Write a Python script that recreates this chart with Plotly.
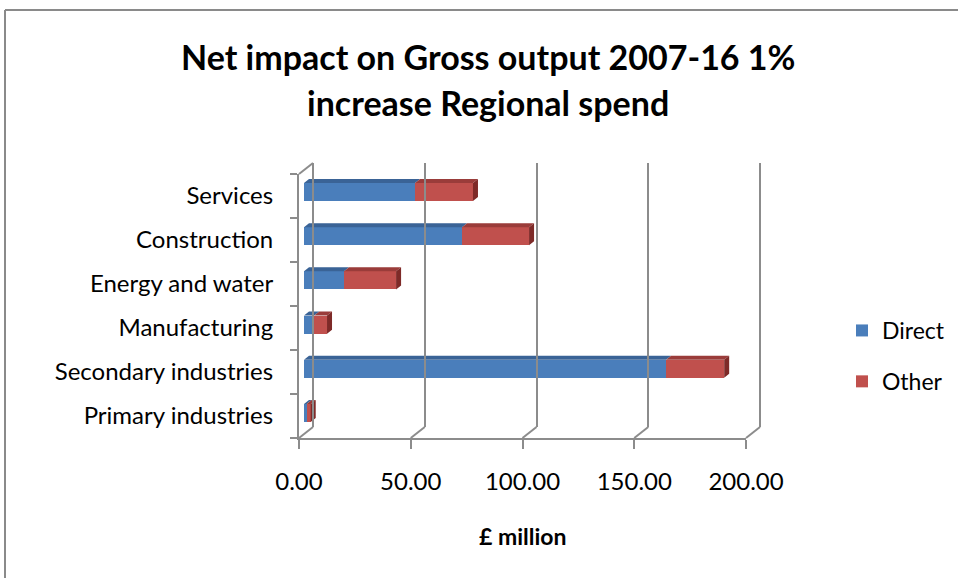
import plotly.graph_objects as go

# ---- data ----
categories = ["Primary industries", "Secondary industries", "Manufacturing",
              "Energy and water", "Construction", "Services"]
direct = [1.2, 162.0, 4.6, 17.9, 70.7, 49.7]
other = [1.8, 26.0, 5.7, 23.3, 30.0, 25.9]
x_ticks = [0, 50, 100, 150, 200]
x_tick_text = ["0.00", "50.00", "100.00", "150.00", "200.00"]

# ---- page geometry (pixels) ----
W, H = 958, 578
FONT = "Lato, 'Open Sans', sans-serif"
GRID = "#8C8C8C"
BLUE, BLUE_TOP = "#4A7EBB", "#3A6396"
RED, RED_TOP, RED_SIDE = "#C0504D", "#9A3C3A", "#7E2A28"


def px(x):
    return x / W


def py(y):
    return 1 - y / H


# front plane, bar plane, back wall (left, right, top, bottom)
FRONT = (299, 746, 174, 438)
BARS = (304, 751, 169.9, 435.1)
BACK = (313, 760, 163, 427)
XMAX = 200.0
bar_w = 0.41
# depth offsets of the 3-D faces, in data units of the bar plane
dx = 5 / ((BARS[1] - BARS[0]) / XMAX)
dy = 4 / ((BARS[3] - BARS[2]) / len(categories))

fig = go.Figure()

# invisible trace that carries the back-wall gridlines
fig.add_trace(go.Scatter(x=[0, XMAX], y=[0, 1], mode="markers",
                         marker=dict(opacity=0), hoverinfo="skip",
                         showlegend=False, xaxis="x3", yaxis="y3"))

# invisible trace that carries the category axis on the front plane
fig.add_trace(go.Scatter(x=[0] * len(categories), y=categories, mode="markers",
                         marker=dict(opacity=0), hoverinfo="skip",
                         showlegend=False, xaxis="x", yaxis="y"))

ypos = list(range(len(categories)))
fig.add_trace(go.Bar(y=ypos, x=direct, orientation="h", name="Direct",
                     marker=dict(color=BLUE, line=dict(width=0)), width=bar_w,
                     xaxis="x2", yaxis="y2", legendgroup="d"))
fig.add_trace(go.Bar(y=ypos, x=other, orientation="h", name="Other",
                     marker=dict(color=RED, line=dict(width=0)), width=bar_w,
                     xaxis="x2", yaxis="y2", legendgroup="o"))


def top_faces(starts, ends):
    xs, ys = [], []
    for i, (a, b) in enumerate(zip(starts, ends)):
        t = i + bar_w / 2
        xs += [a, b, b + dx, a + dx, a, None]
        ys += [t, t, t + dy, t + dy, t, None]
    return xs, ys


zeros = [0] * len(direct)
totals = [d + o for d, o in zip(direct, other)]
bx, by = top_faces(zeros, direct)
rx, ry = top_faces(direct, totals)
fig.add_trace(go.Scatter(x=bx, y=by, fill="toself", mode="lines",
                         line=dict(width=0), fillcolor=BLUE_TOP, hoverinfo="skip",
                         showlegend=False, xaxis="x2", yaxis="y2"))
fig.add_trace(go.Scatter(x=rx, y=ry, fill="toself", mode="lines",
                         line=dict(width=0), fillcolor=RED_TOP, hoverinfo="skip",
                         showlegend=False, xaxis="x2", yaxis="y2"))
sx, sy = [], []
for i, t in enumerate(totals):
    lo, hi = i - bar_w / 2, i + bar_w / 2
    sx += [t, t, t + dx, t + dx, t, None]
    sy += [lo, hi, hi + dy, lo + dy, lo, None]
fig.add_trace(go.Scatter(x=sx, y=sy, fill="toself", mode="lines",
                         line=dict(width=0), fillcolor=RED_SIDE, hoverinfo="skip",
                         showlegend=False, xaxis="x2", yaxis="y2"))

# floor / wall edges joining back wall to front plane
shapes = []
for v in x_ticks:
    bxp = BACK[0] + v / XMAX * (BACK[1] - BACK[0])
    fxp = FRONT[0] + v / XMAX * (FRONT[1] - FRONT[0])
    shapes.append(dict(type="line", xref="paper", yref="paper", layer="below",
                       x0=px(bxp), y0=py(BACK[3]), x1=px(fxp), y1=py(FRONT[3]),
                       line=dict(color=GRID, width=2)))
# closing gridline on the right edge of the back wall
shapes.append(dict(type="line", xref="paper", yref="paper", layer="below",
                   x0=px(BACK[1]), y0=py(BACK[3]), x1=px(BACK[1]), y1=py(BACK[2]),
                   line=dict(color=GRID, width=2)))
shapes.append(dict(type="line", xref="paper", yref="paper", layer="below",
                   x0=px(BACK[0]), y0=py(BACK[2]), x1=px(FRONT[0]), y1=py(FRONT[2]),
                   line=dict(color=GRID, width=2)))
# chart frame
shapes.append(dict(type="line", xref="paper", yref="paper",
                   x0=px(5), y0=py(10), x1=1.0, y1=py(10),
                   line=dict(color="#8A8A8A", width=2)))
shapes.append(dict(type="line", xref="paper", yref="paper",
                   x0=px(5), y0=py(10), x1=px(5), y1=0.0,
                   line=dict(color="#8A8A8A", width=2)))

annotations = [
    dict(text="<b>Net impact on Gross output 2007-16 1%</b>", x=px(488), y=py(57),
         xref="paper", yref="paper", showarrow=False, xanchor="center",
         yanchor="middle", font=dict(family=FONT, size=34, color="black")),
    dict(text="<b>increase Regional spend</b>", x=px(488), y=py(102),
         xref="paper", yref="paper", showarrow=False, xanchor="center",
         yanchor="middle", font=dict(family=FONT, size=34, color="black")),
    dict(text="<b>£ million</b>", x=px(522.5), y=py(536),
         xref="paper", yref="paper", showarrow=False, xanchor="center",
         yanchor="middle", font=dict(family=FONT, size=23, color="black")),
]

fig.update_layout(
    template="none",
    width=W, height=H,
    margin=dict(l=0, r=0, t=0, b=0, pad=0, autoexpand=False),
    paper_bgcolor="white", plot_bgcolor="rgba(0,0,0,0)",
    font=dict(family=FONT, color="black"),
    barmode="stack",
    showlegend=True,
    legend=dict(x=px(842), y=py(356), xanchor="left", yanchor="middle",
                font=dict(family=FONT, size=23, color="black"),
                tracegroupgap=18, bgcolor="rgba(0,0,0,0)", borderwidth=0),
    xaxis=dict(domain=[px(FRONT[0]), px(FRONT[1])], range=[0, XMAX],
               tickvals=x_ticks, ticktext=x_tick_text, ticks="outside",
               ticklen=9, tickwidth=2, tickcolor=GRID, showline=True,
               linecolor=GRID, linewidth=2, showgrid=False, zeroline=False,
               tickfont=dict(family=FONT, size=24, color="black"),
               ticklabelstandoff=12, anchor="y", automargin=False,
               fixedrange=True),
    yaxis=dict(domain=[py(FRONT[3]), py(FRONT[2])], type="category",
               categoryorder="array", categoryarray=categories,
               range=[-0.5, len(categories) - 0.5],
               tickson="boundaries", ticks="outside", ticklen=7, tickwidth=2,
               tickcolor=GRID, showline=True, linecolor=GRID, linewidth=2,
               showgrid=False, zeroline=False,
               tickfont=dict(family=FONT, size=24, color="black"),
               ticklabelstandoff=19, anchor="x", automargin=False,
               fixedrange=True),
    xaxis2=dict(domain=[px(BARS[0]), px(BARS[1])], range=[0, XMAX],
                visible=False, anchor="y2", automargin=False, fixedrange=True),
    yaxis2=dict(domain=[py(BARS[3]), py(BARS[2])],
                range=[-0.5, len(categories) - 0.5],
                visible=False, anchor="x2", automargin=False, fixedrange=True),
    xaxis3=dict(domain=[px(BACK[0]), px(BACK[1])], range=[0, XMAX],
                tickvals=x_ticks, showticklabels=False, ticks="",
                showgrid=True, gridcolor=GRID, gridwidth=2,
                zeroline=True, zerolinecolor=GRID, zerolinewidth=2,
                showline=False, anchor="y3", automargin=False, fixedrange=True),
    yaxis3=dict(domain=[py(BACK[3]), py(BACK[2])], range=[0, 1],
                visible=False, anchor="x3", automargin=False, fixedrange=True),
    shapes=shapes,
    annotations=annotations,
)

fig.write_html("out.html")
